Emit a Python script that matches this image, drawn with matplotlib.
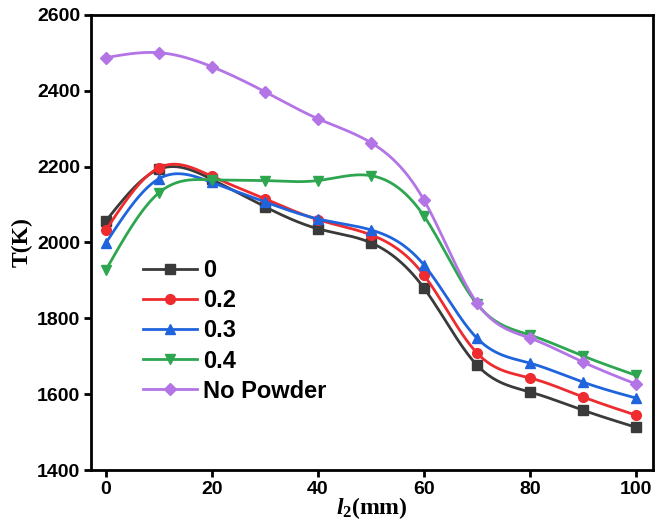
import numpy as np
import matplotlib
matplotlib.use('Agg')
import matplotlib.pyplot as plt

# data
x = [0, 10, 20, 30, 40, 50, 60, 70, 80, 90, 100]
t_0 = [2057, 2193, 2166, 2094, 2036, 1999, 1880, 1677, 1606, 1558, 1513]
t_02 = [2033, 2197, 2174, 2115, 2060, 2020, 1914, 1709, 1643, 1593, 1545]
t_03 = [1999, 2168, 2158, 2107, 2062, 2033, 1941, 1748, 1682, 1632, 1590]
t_04 = [1928, 2131, 2165, 2163, 2163, 2176, 2070, 1838, 1756, 1701, 1650]
t_none = [2487, 2500, 2463, 2397, 2326, 2263, 2112, 1841, 1748, 1685, 1627]

labels = ['0', '0.2', '0.3', '0.4', 'No Powder']
colors = ['#3a3a3a', '#ee2b2f', '#1f64dc', '#2ea650', '#b374e6']
markers = ['s', 'o', '^', 'v', 'D']


def spline(xs, ys, n=300):
    # natural cubic spline, only used to draw the smooth line between points
    xs = np.asarray(xs, float)
    ys = np.asarray(ys, float)
    k = len(xs)
    h = np.diff(xs)
    A = np.zeros((k, k))
    b = np.zeros(k)
    A[0, 0] = A[-1, -1] = 1
    for i in range(1, k - 1):
        A[i, i - 1] = h[i - 1]
        A[i, i] = 2 * (h[i - 1] + h[i])
        A[i, i + 1] = h[i]
        b[i] = 3 * ((ys[i + 1] - ys[i]) / h[i] - (ys[i] - ys[i - 1]) / h[i - 1])
    c = np.linalg.solve(A, b)
    xx = np.linspace(xs[0], xs[-1], n)
    idx = np.clip(np.searchsorted(xs, xx) - 1, 0, k - 2)
    d = xx - xs[idx]
    bb = (ys[idx + 1] - ys[idx]) / h[idx] - h[idx] * (2 * c[idx] + c[idx + 1]) / 3
    dd = (c[idx + 1] - c[idx]) / (3 * h[idx])
    return xx, ys[idx] + bb * d + c[idx] * d ** 2 + dd * d ** 3


plt.rcParams['mathtext.fontset'] = 'custom'
plt.rcParams['mathtext.rm'] = 'Liberation Serif:bold'
plt.rcParams['mathtext.it'] = 'Liberation Serif:italic:bold'

fig = plt.figure(figsize=(6.56, 5.27), dpi=100)
ax = fig.add_axes([0.139, 0.108, 0.856, 0.864])

for ys, lab, col, mk in zip([t_0, t_02, t_03, t_04, t_none], labels, colors, markers):
    ms = 7 if mk != 'D' else 6.5
    xx, yy = spline(x, ys)
    ax.plot(xx, yy, color=col, lw=2.0)
    ax.plot(x, ys, ls='none', marker=mk, color=col, ms=ms)
    ax.plot([], [], color=col, lw=2.0, marker=mk, ms=ms, label=lab)

ax.set_xlim(-2.8, 103.2)
ax.set_ylim(1400, 2600)
ax.set_xticks(range(0, 101, 20))
ax.set_yticks(range(1400, 2601, 200))
for s in ax.spines.values():
    s.set_linewidth(2)
ax.tick_params(direction='out', width=2, length=5, labelsize=14, pad=3)
for t in ax.get_xticklabels() + ax.get_yticklabels():
    t.set_fontfamily('Liberation Sans')
    t.set_fontweight('bold')

ax.set_ylabel('T(K)', fontfamily='Liberation Serif', fontweight='bold', fontsize=17, labelpad=3)
ax.set_xlabel(r'$\mathit{l}_2$(mm)', fontfamily='Liberation Serif', fontweight='bold', fontsize=17, labelpad=-2)

ax.legend(loc='upper left', bbox_to_anchor=(0.092, 0.463), frameon=False,
          prop={'family': 'Liberation Sans', 'weight': 'bold', 'size': 17},
          handlelength=2.3, labelspacing=0.3, handletextpad=0.25,
          borderaxespad=0, borderpad=0)

plt.savefig('out.png', dpi=100)
